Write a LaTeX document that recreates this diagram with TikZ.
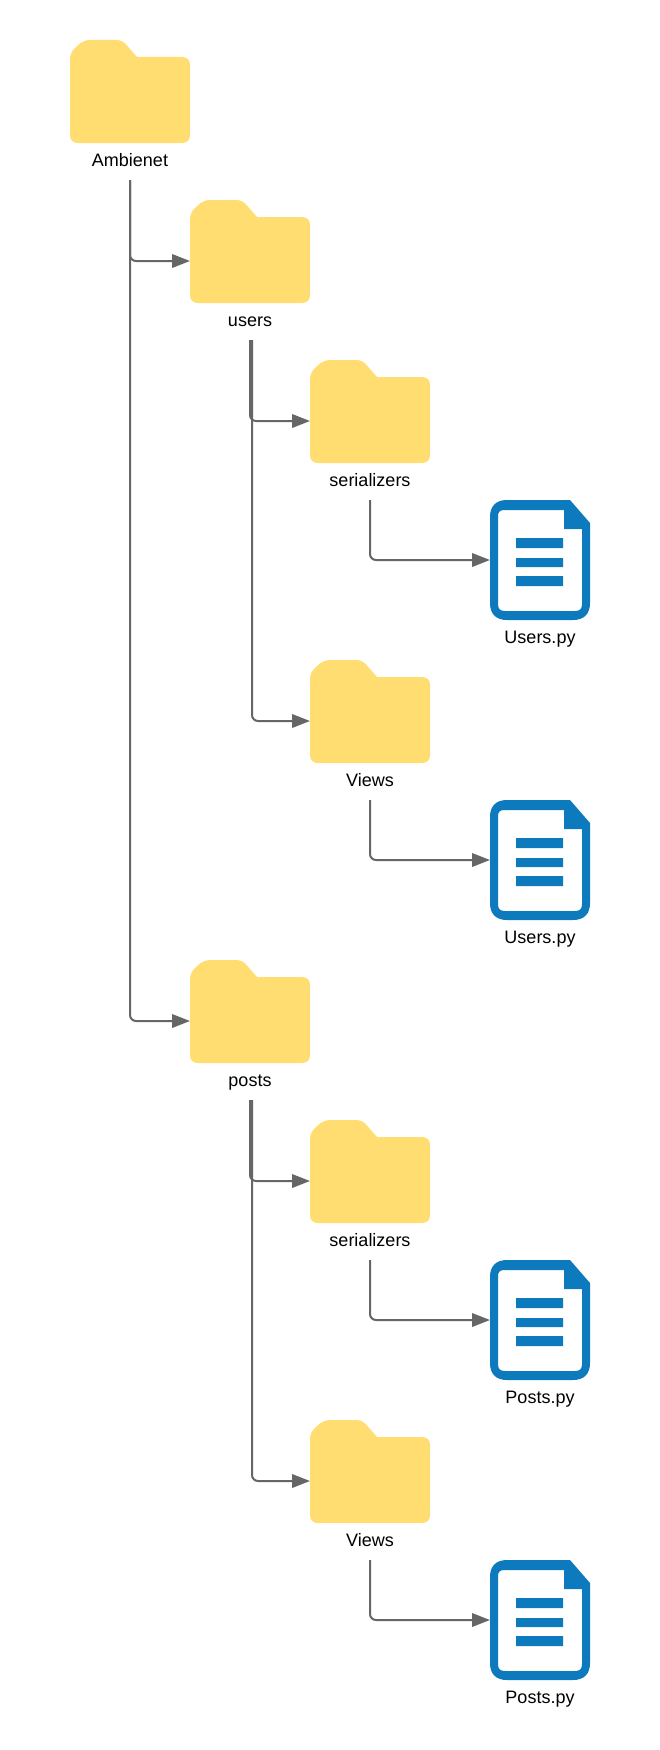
\documentclass[tikz,border=0pt]{standalone}
\usepackage{fontspec}
\setmainfont{Liberation Sans}
\usetikzlibrary{arrows.meta}
\definecolor{folderyellow}{HTML}{FFDD71}
\definecolor{fileblue}{HTML}{0D7ABD}
\definecolor{linkgrey}{HTML}{666666}
\tikzset{
  folderbox/.style={minimum width=120pt,minimum height=122pt,inner sep=0pt,outer sep=0pt,anchor=north west},
  filebox/.style={minimum width=100pt,minimum height=120pt,inner sep=0pt,outer sep=0pt,anchor=north west},
  caption/.style={minimum height=40pt,text height=15.4pt,text depth=4pt,inner sep=0pt,outer sep=0pt,font=\fontsize{18}{22}\selectfont,text=black},
  foldercaption/.style={caption,text height=17.4pt},
  link/.style={draw=linkgrey,line width=2pt,rounded corners=6pt,-{Triangle[length=18pt,width=13.5pt]}}
}
\newcommand{\folderat}[4]{%
  \fill[folderyellow,shift={(#2,#3)}]
    (0,20) .. controls (0,14) and (2,11) .. (5,8)
    -- (10,3.5) .. controls (13,1) and (16,0) .. (22,0)
    -- (46,0) .. controls (51,0) and (54,2) .. (57,5.5)
    -- (67,17) -- (112,17) .. controls (117,17) and (120,20) .. (120,25)
    -- (120,95) .. controls (120,100) and (117,103) .. (112,103)
    -- (8,103) .. controls (3,103) and (0,100) .. (0,95) -- cycle;
  \node[folderbox] (#1) at (#2,#3) {};
  \node[foldercaption] (#1label) at ({#2+60},{#3+120}) {#4};
}
\newcommand{\fileat}[4]{%
  \fill[fileblue,even odd rule,shift={(#2,#3)}]
    (0,17) .. controls (0,6) and (6,0) .. (17,0) -- (80,0) -- (100,23) -- (100,103)
    .. controls (100,114) and (94,120) .. (83,120) -- (17,120)
    .. controls (6,120) and (0,114) .. (0,103) -- cycle
    (8,16) -- (8,104) .. controls (8,109) and (10,111) .. (15,111) -- (85,111)
    .. controls (90,111) and (92,109) .. (92,104) -- (92,29) -- (74,29) -- (74,10)
    -- (14,10) .. controls (10,10) and (8,12) .. (8,16) -- cycle;
  \fill[fileblue,shift={(#2,#3)}] (26,38) rectangle (73,48) (26,58) rectangle (73,67) (26,76) rectangle (73,86);
  \node[filebox] (#1) at (#2,#3) {};
  \node[caption] (#1label) at ({#2+50},{#3+137.5}) {#4};
}
\begin{document}
\begin{tikzpicture}[x=1pt,y=-1pt]
\useasboundingbox (0,0) rectangle (660,1750);
\fill[white] (0,0) rectangle (660,1750);
\folderat{root}{70}{40}{Ambienet}
\folderat{users}{190}{200}{users}
\folderat{userser}{310}{360}{serializers}
\fileat{userserf}{490}{500}{Users.py}
\folderat{uviews}{310}{660}{Views}
\fileat{uviewsf}{490}{800}{Users.py}
\folderat{posts}{190}{960}{posts}
\folderat{postser}{310}{1120}{serializers}
\fileat{postserf}{490}{1260}{Posts.py}
\folderat{pviews}{310}{1420}{Views}
\fileat{pviewsf}{490}{1560}{Posts.py}
\path[link] (rootlabel.south) |- (users.west);
\path[link] (rootlabel.south) |- (posts.west);
\path[link] (userslabel.south) |- (userser.west);
\path[link] ([xshift=2pt]userslabel.south) |- (uviews.west);
\path[link] (userserlabel.south) |- (userserf.west);
\path[link] (uviewslabel.south) |- (uviewsf.west);
\path[link] (postslabel.south) |- (postser.west);
\path[link] ([xshift=2pt]postslabel.south) |- (pviews.west);
\path[link] (postserlabel.south) |- (postserf.west);
\path[link] (pviewslabel.south) |- (pviewsf.west);
\end{tikzpicture}
\end{document}
